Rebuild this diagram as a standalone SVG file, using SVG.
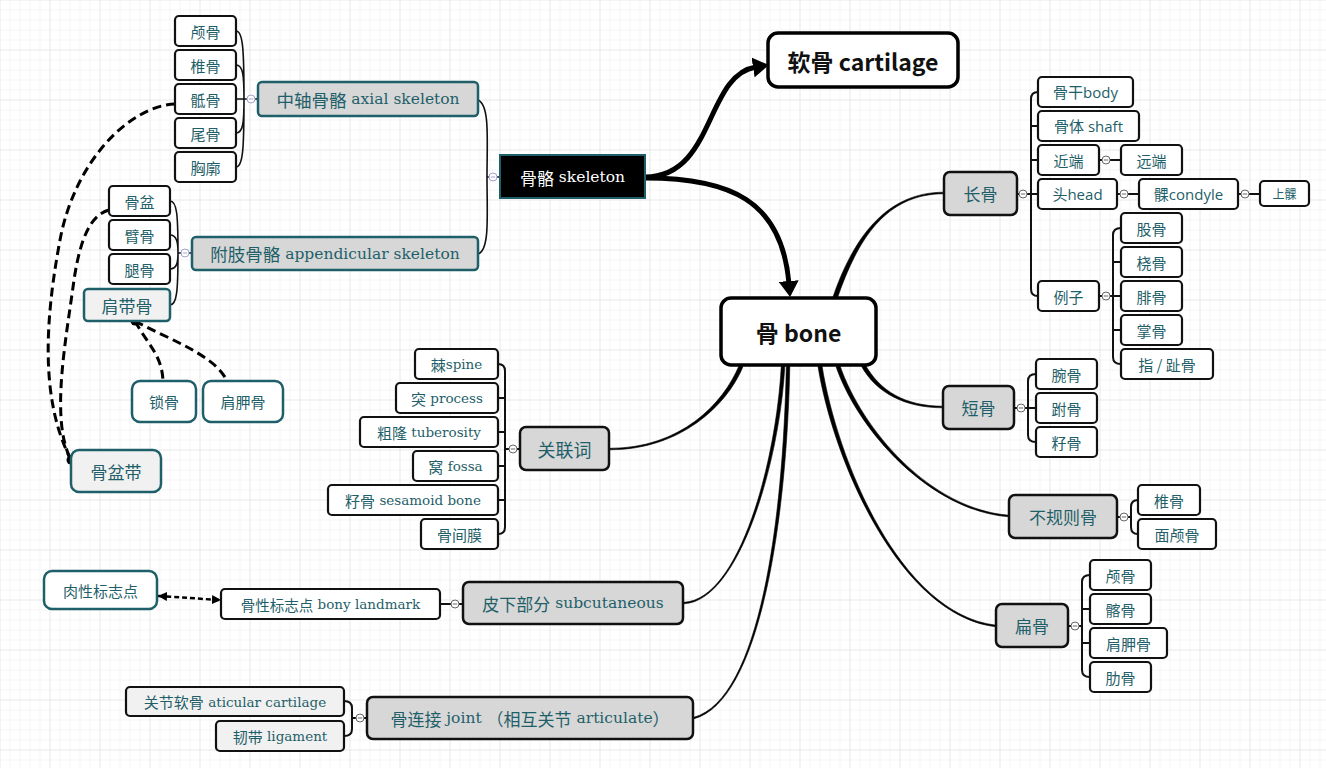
<svg xmlns="http://www.w3.org/2000/svg" xmlns:xlink="http://www.w3.org/1999/xlink" width="1326" height="768" viewBox="0 0 1326 768">
<defs>
<pattern id="gridMinor" width="10" height="10" patternUnits="userSpaceOnUse" x="9.5" y="9.5">
<path d="M0,0H10M0,0V10" fill="none" stroke="#ebebeb" stroke-width="1"/>
</pattern>
<pattern id="gridMajor" width="50" height="50" patternUnits="userSpaceOnUse" x="49.5" y="49.5">
<path d="M0,0H50M0,0V50" fill="none" stroke="#e0e0e0" stroke-width="1"/>
</pattern>
<marker id="bigArrow" viewBox="0 0 16 20" refX="3" refY="10" markerWidth="16" markerHeight="20" markerUnits="userSpaceOnUse" orient="auto">
<path d="M0,0L16,10L0,20Z" fill="#000"/>
</marker>
<marker id="smallArrow" viewBox="0 0 9 9" refX="9" refY="4.5" markerWidth="9" markerHeight="9" markerUnits="userSpaceOnUse" orient="auto-start-reverse">
<path d="M0,0L9,4.5L0,9Z" fill="#000"/>
</marker>
<g id="cc"><circle r="4" fill="#fff" stroke="#666" stroke-width="1"/><path d="M-2.2,0H2.2" stroke="#666" stroke-width="1"/></g>
<g id="ccb"><circle r="4" fill="#fff" stroke="#a3a3d0" stroke-width="1"/><path d="M-2.2,0H2.2" stroke="#a3a3d0" stroke-width="1"/></g>
</defs>
<style>
text{fill:#1f5f69;text-anchor:middle;dominant-baseline:central;font-family:"Noto Sans CJK SC",sans-serif;font-size:15px}
.en{font-family:"DejaVu Serif",serif;font-size:13.5px}
.enB{font-family:"DejaVu Serif",serif;font-size:15.5px}
.sans{font-family:"Open Sans","Noto Sans CJK SC",sans-serif}
.big{font-size:17px}
.main{font-family:"Noto Sans CJK SC",sans-serif;font-weight:bold;font-size:23px;fill:#111}
.w{fill:#fff}
.leaf{fill:#fff;stroke:#111;stroke-width:2.2}
.leafL{fill:#f1f1f1;stroke:#111;stroke-width:2.2}
.gray{fill:#d7d7d7;stroke:#111;stroke-width:2.5}
.grayT{fill:#d7d7d7;stroke:#1e5f69;stroke-width:2.5}
.tealW{fill:#fff;stroke:#1e5f69;stroke-width:2.5}
.tealL{fill:#f1f1f1;stroke:#1e5f69;stroke-width:2.5}
.root{fill:#fff;stroke:#000;stroke-width:3.5}
.line{fill:none;stroke:#111;stroke-width:2}
.thin{fill:none;stroke:#111;stroke-width:1.6}
.dash{fill:none;stroke:#000;stroke-width:3;stroke-dasharray:9 5}
.arrow{fill:none;stroke:#000;stroke-width:5;marker-end:url(#bigArrow)}
.taper{fill:#000;stroke:#000;stroke-width:0.6}
</style>
<rect width="1326" height="768" fill="#fff"/>
<rect width="1326" height="768" fill="url(#gridMinor)"/>
<rect width="1326" height="768" fill="url(#gridMajor)"/>

<g id="connectors">
<path class="arrow" d="M645,177 C715,177 705,75 756,67"/>
<path class="arrow" d="M645,178 C730,178 782,200 789,284"/>
<path class="taper" d="M837.2,298.6 C857.2,240.6 885,193.8 944,193.8 L944,192.2 C885,192.2 852.8,239.4 832.8,297.4 Z"/>
<path class="taper" d="M861.3,366 C876.3,393 905,407.8 943,407.8 L943,406.2 C905,406.2 879.8,391 864.8,364 Z"/>
<path class="taper" d="M836.1,366.7 C858.1,430.7 929.9,510.8 1009,516.8 L1009,515.2 C930.1,509.3 861.9,429.4 839.9,365.4 Z"/>
<path class="taper" d="M818,366.3 C833,460.3 899.9,615.8 996,626.8 L996,625.2 C900.1,614.3 837,459.7 822,365.7 Z"/>
<path class="taper" d="M739.2,365.2 C723.2,404.2 680,448.3 610,448.3 L610,449.8 C680,449.8 726.9,405.8 742.9,366.8 Z"/>
<path class="taper" d="M781.3,365.9 C776.3,459.9 740,599.3 684,602.3 L684,603.8 C740,600.8 779.8,460.1 784.8,366.1 Z"/>
<path class="taper" d="M786.3,366 C783.3,520 759.8,699.3 693.8,717.3 L694.2,718.7 C760.2,700.7 786.8,520 789.8,366 Z"/>

<path class="thin" d="M478,100 C490,105 487,140 487,177 C487,215 490,250 478,254 M487,177 H489 M497,177 H500"/>
<path class="thin" d="M244,99 C244,50 243,31 236,31 M244,99 C244,75 243,65 236,65 M244,99 H236 M244,99 C244,123 243,133 236,133 M244,99 C244,148 243,167 236,167 M244,99 H247 M255,99 H258"/>
<path class="thin" d="M178,253 C178,215 177,201 170,201 M178,253 C178,243 177,235 170,235 M178,253 C178,262 177,269 170,269 M178,253 C178,290 177,305 170,305 M178,253 H181 M189,253 H192"/>
<path class="dash" d="M175,104 C130,106 75,160 60,240 C45,320 40,400 71,460"/>
<path class="dash" d="M109,210 C90,215 80,240 74,280 C66,340 50,420 71,460"/>
<path class="dash" d="M135,321 C148,345 162,355 163,381"/>
<path class="dash" d="M135,321 C170,340 215,355 227,381"/>
<circle cx="135" cy="321" r="4.5" fill="#000"/>
<circle cx="71" cy="460" r="4.5" fill="#000"/>

<path class="line" d="M1017,194 H1019 M1027,194 H1031 M1038,92 Q1031,92 1031,99 V289 Q1031,296 1038,296 M1031,126 H1038 M1031,160 H1038 M1031,194 H1038"/>
<path class="line" d="M1099,160 H1102 M1110,160 H1121 M1117,194 H1120 M1128,194 H1139 M1238,194 H1241 M1249,194 H1260"/>
<path class="line" d="M1099,296 H1102 M1110,296 H1113 M1121,228 Q1113,228 1113,235 V357 Q1113,364 1121,364 M1113,262 H1121 M1113,296 H1121 M1113,330 H1121"/>
<path class="line" d="M1014,408 H1017 M1025,408 H1028 M1036,374 Q1028,374 1028,381 V435 Q1028,442 1036,442 M1028,408 H1036"/>
<path class="line" d="M1117,517 H1120 M1128,517 H1131 M1138,500 Q1131,500 1131,507 V527 Q1131,534 1138,534"/>
<path class="line" d="M1068,626 H1071 M1079,626 H1082 M1090,575 Q1082,575 1082,582 V670 Q1082,677 1090,677 M1082,609 H1090 M1082,643 H1090"/>
<path class="line" d="M520,449 H517 M509,449 H505 M498,364 Q505,364 505,371 V527 Q505,534 498,534 M505,398 H498 M505,432 H498 M505,466 H498 M505,500 H498"/>
<path class="line" d="M463,604 H459 M451,604 H440"/>
<path fill="none" stroke="#000" stroke-width="2.5" stroke-dasharray="5 3" marker-start="url(#smallArrow)" marker-end="url(#smallArrow)" d="M158,596 C180,597 200,599 221,600"/>
<path class="line" d="M367,718 H364 M356,718 H352 M344,701 Q352,701 352,708 V729 Q352,736 344,736"/>

<use href="#ccb" x="493" y="177"/>
<use href="#ccb" x="251" y="99"/>
<use href="#ccb" x="185" y="253"/>
<use href="#cc" x="1023" y="194"/>
<use href="#cc" x="1106" y="160"/>
<use href="#cc" x="1124" y="194"/>
<use href="#cc" x="1245" y="194"/>
<use href="#cc" x="1106" y="296"/>
<use href="#cc" x="1021" y="408"/>
<use href="#cc" x="1124" y="517"/>
<use href="#cc" x="1075" y="626"/>
<use href="#cc" x="513" y="449"/>
<use href="#cc" x="455" y="604"/>
<use href="#cc" x="360" y="718"/>
</g>

<g id="n-bone"><rect class="root" x="721" y="298" width="155" height="67" rx="10"/><text class="main" x="798.5" y="332">骨 bone</text></g>
<g id="n-cartilage"><rect class="root" x="768" y="33" width="190" height="54" rx="10"/><text class="main" x="863" y="61">软骨 cartilage</text></g>
<g id="n-skeleton"><rect x="500" y="155" width="145" height="43" fill="#000" stroke="#1e5f69" stroke-width="2"/><text class="w big" x="572.5" y="177">骨骼<tspan class="enB"> skeleton</tspan></text></g>

<g id="n-axial"><rect class="grayT" x="258" y="82" width="220" height="34" rx="4"/><text x="368" y="99" style="font-size:17.5px">中轴骨骼<tspan class="enB"> axial skeleton</tspan></text></g>
<g id="n-appendicular"><rect class="grayT" x="192" y="237" width="286" height="33" rx="4"/><text x="335" y="253.5" style="font-size:17.5px">附肢骨骼<tspan class="enB"> appendicular skeleton</tspan></text></g>
<g id="n-a1"><rect class="leaf" x="175" y="16" width="61" height="30" rx="4"/><text x="205.5" y="31">颅骨</text></g>
<g id="n-a2"><rect class="leaf" x="175" y="50" width="61" height="30" rx="4"/><text x="205.5" y="65">椎骨</text></g>
<g id="n-a3"><rect class="leaf" x="175" y="84" width="61" height="30" rx="4"/><text x="205.5" y="99">骶骨</text></g>
<g id="n-a4"><rect class="leaf" x="175" y="118" width="61" height="30" rx="4"/><text x="205.5" y="133">尾骨</text></g>
<g id="n-a5"><rect class="leaf" x="175" y="152" width="61" height="30" rx="4"/><text x="205.5" y="167">胸廓</text></g>
<g id="n-p1"><rect class="leaf" x="109" y="186" width="61" height="30" rx="4"/><text x="139.5" y="201">骨盆</text></g>
<g id="n-p2"><rect class="leaf" x="109" y="220" width="61" height="30" rx="4"/><text x="139.5" y="235">臂骨</text></g>
<g id="n-p3"><rect class="leaf" x="109" y="254" width="61" height="30" rx="4"/><text x="139.5" y="269">腿骨</text></g>
<g id="n-shoulder"><rect class="tealL" x="84" y="289" width="86" height="32" rx="4"/><text class="big" x="127" y="305">肩带骨</text></g>
<g id="n-clavicle"><rect class="tealW" x="132" y="381" width="64" height="41" rx="8"/><text x="164" y="401.5">锁骨</text></g>
<g id="n-scapula1"><rect class="tealW" x="203" y="381" width="80" height="41" rx="8"/><text x="243" y="401.5">肩胛骨</text></g>
<g id="n-pelvic"><rect class="tealL" x="71" y="450" width="90" height="42" rx="8"/><text class="big" x="116" y="471">骨盆带</text></g>

<g id="n-long"><rect class="gray" x="944" y="172" width="73" height="43" rx="6"/><text class="big" x="980.5" y="193.5">长骨</text></g>
<g id="n-body"><rect class="leaf" x="1038" y="77" width="95" height="30" rx="4"/><text class="sans" x="1085.5" y="92">骨干body</text></g>
<g id="n-shaft"><rect class="leaf" x="1038" y="111" width="101" height="30" rx="4"/><text class="sans" x="1088.5" y="126">骨体 shaft</text></g>
<g id="n-prox"><rect class="leaf" x="1038" y="145" width="61" height="30" rx="4"/><text x="1068.5" y="160">近端</text></g>
<g id="n-dist"><rect class="leaf" x="1121" y="145" width="61" height="30" rx="4"/><text x="1151.5" y="160">远端</text></g>
<g id="n-head"><rect class="leaf" x="1038" y="179" width="79" height="30" rx="4"/><text class="sans" x="1077.5" y="194">头head</text></g>
<g id="n-condyle"><rect class="leaf" x="1139" y="179" width="99" height="30" rx="4"/><text class="sans" x="1188.5" y="194">髁condyle</text></g>
<g id="n-epicondyle"><rect class="leaf" x="1260" y="181" width="49" height="25" rx="4"/><text x="1284.5" y="193.5" style="font-size:12px">上髁</text></g>
<g id="n-example"><rect class="leaf" x="1038" y="281" width="61" height="30" rx="4"/><text x="1068.5" y="296">例子</text></g>
<g id="n-femur"><rect class="leaf" x="1121" y="213" width="61" height="30" rx="4"/><text x="1151.5" y="228">股骨</text></g>
<g id="n-radius"><rect class="leaf" x="1121" y="247" width="61" height="30" rx="4"/><text x="1151.5" y="262">桡骨</text></g>
<g id="n-fibula"><rect class="leaf" x="1121" y="281" width="61" height="30" rx="4"/><text x="1151.5" y="296">腓骨</text></g>
<g id="n-metacarpal"><rect class="leaf" x="1121" y="315" width="61" height="30" rx="4"/><text x="1151.5" y="330">掌骨</text></g>
<g id="n-phalanx"><rect class="leaf" x="1121" y="349" width="92" height="30" rx="4"/><text x="1167" y="364">指 / 趾骨</text></g>

<g id="n-short"><rect class="gray" x="943" y="386" width="71" height="43" rx="6"/><text class="big" x="978.5" y="407.5">短骨</text></g>
<g id="n-carpal"><rect class="leaf" x="1036" y="359" width="61" height="30" rx="4"/><text x="1066.5" y="374">腕骨</text></g>
<g id="n-tarsal"><rect class="leaf" x="1036" y="393" width="61" height="30" rx="4"/><text x="1066.5" y="408">跗骨</text></g>
<g id="n-sesamoid1"><rect class="leaf" x="1036" y="427" width="61" height="30" rx="4"/><text x="1066.5" y="442">籽骨</text></g>

<g id="n-irregular"><rect class="gray" x="1009" y="495" width="108" height="43" rx="6"/><text class="big" x="1063" y="516.5">不规则骨</text></g>
<g id="n-vertebra2"><rect class="leaf" x="1138" y="485" width="62" height="30" rx="4"/><text x="1169" y="500">椎骨</text></g>
<g id="n-facial"><rect class="leaf" x="1138" y="519" width="78" height="30" rx="4"/><text x="1177" y="534">面颅骨</text></g>

<g id="n-flat"><rect class="gray" x="996" y="604" width="72" height="43" rx="6"/><text class="big" x="1032" y="625.5">扁骨</text></g>
<g id="n-skull2"><rect class="leaf" x="1090" y="560" width="61" height="30" rx="4"/><text x="1120.5" y="575">颅骨</text></g>
<g id="n-ilium"><rect class="leaf" x="1090" y="594" width="61" height="30" rx="4"/><text x="1120.5" y="609">髂骨</text></g>
<g id="n-scapula2"><rect class="leaf" x="1090" y="628" width="77" height="30" rx="4"/><text x="1128.5" y="643">肩胛骨</text></g>
<g id="n-rib"><rect class="leaf" x="1090" y="662" width="61" height="30" rx="4"/><text x="1120.5" y="677">肋骨</text></g>

<g id="n-related"><rect class="gray" x="520" y="427" width="89" height="43" rx="6"/><text x="564.5" y="448.5" style="font-size:18px">关联词</text></g>
<g id="n-spine"><rect class="leaf" x="415" y="349" width="83" height="30" rx="4"/><text x="456.5" y="364">棘<tspan class="en">spine</tspan></text></g>
<g id="n-process"><rect class="leaf" x="396" y="383" width="102" height="30" rx="4"/><text x="447" y="398">突<tspan class="en"> process</tspan></text></g>
<g id="n-tuberosity"><rect class="leaf" x="360" y="417" width="138" height="30" rx="4"/><text x="429" y="432">粗隆<tspan class="en"> tuberosity</tspan></text></g>
<g id="n-fossa"><rect class="leaf" x="413" y="451" width="85" height="30" rx="4"/><text x="455.5" y="466">窝<tspan class="en"> fossa</tspan></text></g>
<g id="n-sesamoid2"><rect class="leaf" x="328" y="485" width="170" height="30" rx="4"/><text x="413" y="500">籽骨<tspan class="en"> sesamoid bone</tspan></text></g>
<g id="n-interosseous"><rect class="leaf" x="421" y="519" width="77" height="30" rx="4"/><text x="459.5" y="534">骨间膜</text></g>

<g id="n-subcutaneous"><rect class="gray" x="463" y="582" width="220" height="42" rx="6"/><text class="big" x="573" y="603">皮下部分<tspan class="enB"> subcutaneous</tspan></text></g>
<g id="n-bony"><rect class="leaf" x="221" y="589" width="219" height="30" rx="4"/><text x="330.5" y="604" style="font-size:14.5px">骨性标志点<tspan class="en"> bony landmark</tspan></text></g>
<g id="n-fleshy"><rect class="tealW" x="44" y="571" width="113" height="38" rx="8"/><text x="100.5" y="590">肉性标志点</text></g>

<g id="n-joint"><rect class="gray" x="367" y="697" width="326" height="42" rx="6"/><text class="big" x="530" y="718">骨连接<tspan class="enB"> joint </tspan>（相互关节<tspan class="enB"> articulate</tspan>）</text></g>
<g id="n-articular"><rect class="leafL" x="126" y="687" width="218" height="29" rx="4"/><text x="235" y="701.5">关节软骨<tspan class="en"> aticular cartilage</tspan></text></g>
<g id="n-ligament"><rect class="leafL" x="216" y="721" width="128" height="30" rx="4"/><text x="280" y="736">韧带<tspan class="en"> ligament</tspan></text></g>
</svg>
